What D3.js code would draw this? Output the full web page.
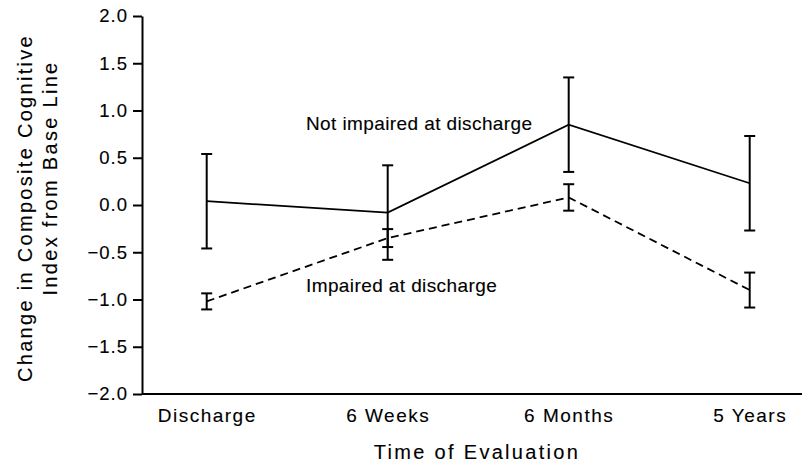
<!DOCTYPE html>
<html>
<head>
<meta charset="utf-8">
<script src="https://cdn.jsdelivr.net/npm/d3@7"></script>
<style>
  html, body { margin: 0; padding: 0; background: #fff; }
  svg { display: block; font-family: "Liberation Sans", Arial, Helvetica, sans-serif; }
  svg text { fill: #000; stroke: #000; stroke-width: 0.12px; }
</style>
</head>
<body>
<div id="chart"></div>
<script>
const categories = ["Discharge", "6 Weeks", "6 Months", "5 Years"]
const notImpairedMean = [0.04, -0.08, 0.85, 0.23]
const notImpairedErr = [0.5, 0.5, 0.5, 0.5]
const impairedMean = [-1.02, -0.35, 0.08, -0.9]
const impairedErr = [0.085, 0.095, 0.14, 0.185]
const yTicks = [2.0, 1.5, 1.0, 0.5, 0.0, -0.5, -1.0, -1.5, -2.0]

const width = 802, height = 467
const margin = { top: 16, right: 0, bottom: 73, left: 142 }
const innerW = width - margin.left - margin.right
const innerH = height - margin.top - margin.bottom

const svg = d3.select("#chart").append("svg").attr("width", width).attr("height", height)
const g = svg.append("g").attr("transform", `translate(${margin.left},${margin.top})`)

const x = d3.scalePoint().domain(categories).range([64.7, 607.7])
const y = d3.scaleLinear().domain([-2, 2]).range([innerH, 0])

// y axis
const yAxis = g.append("g")
  .call(d3.axisLeft(y).tickValues(yTicks).tickSize(9).tickSizeOuter(0).tickPadding(5).tickFormat(d3.format(".1f")))
yAxis.select(".domain").attr("stroke-width", 2)
yAxis.selectAll(".tick line").attr("stroke-width", 2)
yAxis.selectAll(".tick text").attr("font-size", 18.5).attr("letter-spacing", 1)

// x axis
const xAxis = g.append("g").attr("transform", `translate(0,${innerH})`)
  .call(d3.axisBottom(x).tickSize(0).tickPadding(15))
xAxis.select(".domain").remove()
xAxis.selectAll(".tick text").attr("font-size", 19).attr("letter-spacing", 1.5)
g.append("line").attr("x1", 0).attr("x2", innerW).attr("y1", innerH).attr("y2", innerH)
  .attr("stroke", "#000").attr("stroke-width", 2.2)

// axis titles
svg.append("text").attr("x", 477).attr("y", 459).attr("text-anchor", "middle")
  .attr("font-size", 20).attr("letter-spacing", 2.3).text("Time of Evaluation")
svg.append("text").attr("transform", "translate(32,208) rotate(-90)").attr("text-anchor", "middle")
  .attr("font-size", 20).attr("letter-spacing", 2.3).text("Change in Composite Cognitive")
svg.append("text").attr("transform", "translate(57,178) rotate(-90)").attr("text-anchor", "middle")
  .attr("font-size", 20).attr("letter-spacing", 2.3).text("Index from Base Line")

const series = [
  { name: "Not impaired at discharge", mean: notImpairedMean, err: notImpairedErr, dash: null },
  { name: "Impaired at discharge", mean: impairedMean, err: impairedErr, dash: "8,5" }
]

const line = d3.line().x(d => x(d.cat)).y(d => y(d.val))

for (const s of series) {
  const data = categories.map((c, i) => ({ cat: c, val: s.mean[i], err: s.err[i] }))
  g.append("path").attr("fill", "none").attr("stroke", "#000").attr("stroke-width", 1.8)
    .attr("stroke-dasharray", s.dash).attr("d", line(data))
  const eb = g.append("g").selectAll("g").data(data).join("g")
  eb.append("line").attr("x1", d => x(d.cat)).attr("x2", d => x(d.cat))
    .attr("y1", d => y(d.val + d.err)).attr("y2", d => y(d.val - d.err))
    .attr("stroke", "#000").attr("stroke-width", 2)
  for (const sign of [1, -1]) {
    eb.append("line").attr("x1", d => x(d.cat) - 5.5).attr("x2", d => x(d.cat) + 5.5)
      .attr("y1", d => y(d.val + sign * d.err)).attr("y2", d => y(d.val + sign * d.err))
      .attr("stroke", "#000").attr("stroke-width", 2)
  }
}

// series labels
svg.append("text").attr("x", 306).attr("y", 130).attr("font-size", 19).attr("letter-spacing", 0.4)
  .text("Not impaired at discharge")
svg.append("text").attr("x", 306).attr("y", 292).attr("font-size", 19).attr("letter-spacing", 0.4)
  .text("Impaired at discharge")
</script>
</body>
</html>
